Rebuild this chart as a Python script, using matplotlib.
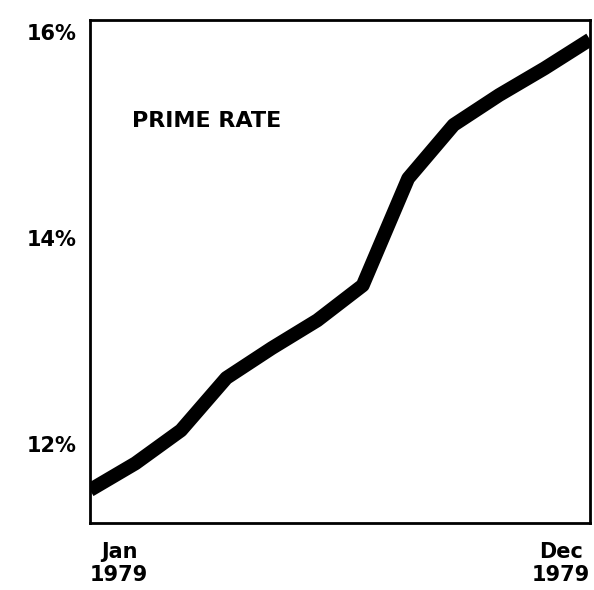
import numpy as np
import matplotlib
matplotlib.use("Agg")
import matplotlib.pyplot as plt

# prime rate (Jan..Dec 1979)
months = np.arange(12)
rate = [11.55, 11.81, 12.13, 12.64, 12.93, 13.2, 13.54, 14.58, 15.1, 15.39, 15.65, 15.93]
yticks = [12, 14, 16]
ytick_labels = ["12%", "14%", "16%"]
xtick_labels = ["Jan\n1979", "Dec\n1979"]

fig = plt.figure(figsize=(5.94, 5.90), dpi=100)
ax = fig.add_axes([0.1515, 0.1136, 0.8418, 0.8525])

ax.plot(months, rate, color="black", lw=10, solid_capstyle="butt", solid_joinstyle="round")

ax.set_xlim(0, 11)
ax.set_ylim(11.23, 16.12)
ax.set_yticks(yticks)
ax.set_yticklabels(ytick_labels, fontsize=15, fontweight="bold", family="DejaVu Sans")
ax.set_xticks([0, 11])
xl = ax.set_xticklabels(xtick_labels, fontsize=15, fontweight="bold", family="DejaVu Sans",
                        linespacing=1.15)
xl[0].set_ha("left")
xl[1].set_ha("right")
for t in xl:
    t.set_multialignment("center")
ax.tick_params(axis="y", length=0, pad=10)
ax.tick_params(axis="x", length=0, pad=14)

for s in ax.spines.values():
    s.set_linewidth(2)

ax.text(0.085, 0.8, "PRIME RATE", transform=ax.transAxes, fontsize=16,
        fontweight="bold", va="center", ha="left")

fig.savefig("out.png", dpi=100, facecolor="white")
